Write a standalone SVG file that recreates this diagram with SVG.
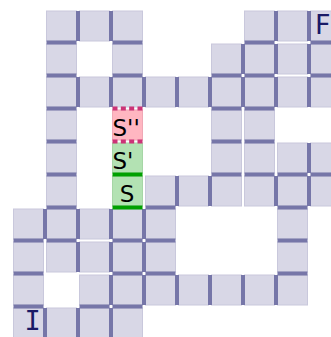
<svg xmlns="http://www.w3.org/2000/svg" width="331" height="337" viewBox="0 0 331 337">
<style>
.cell{fill:#d8d7e6;stroke:#c9c8dc;stroke-width:1}
.pink{fill:#ffb6c1;stroke:#f0a8b6;stroke-width:1}
.green{fill:#b3e2b3;stroke:#a6d6a6;stroke-width:1}
.wall{fill:#7676a8}
.gwall{fill:#00a000}
.dash{stroke:#cc3377;stroke-width:4;stroke-dasharray:5 3.333;fill:none}
.lbl{font-family:"DejaVu Sans",sans-serif;font-size:23px;fill:#000}
.term{font-size:27px;fill:#1a1a66}
</style>
<rect width="331" height="337" fill="#fff"/>
<g id="cells">
<g id="r0"><rect class="cell" x="46.5" y="11" width="30" height="30"/><rect class="cell" x="79.5" y="11" width="30" height="30"/><rect class="cell" x="112.5" y="11" width="30" height="30"/><rect class="cell" x="244.5" y="11" width="30" height="30"/><rect class="cell" x="277.5" y="11" width="30" height="30"/></g>
<g id="r1"><rect class="cell" x="46.5" y="44" width="30" height="30"/><rect class="cell" x="112.5" y="44" width="30" height="30"/><rect class="cell" x="211.5" y="44" width="30" height="30"/><rect class="cell" x="244.5" y="44" width="30" height="30"/><rect class="cell" x="277.5" y="44" width="30" height="30"/><rect class="cell" x="310.5" y="44" width="30" height="30"/></g>
<g id="r2"><rect class="cell" x="46.5" y="77" width="30" height="30"/><rect class="cell" x="79.5" y="77" width="30" height="30"/><rect class="cell" x="112.5" y="77" width="30" height="30"/><rect class="cell" x="145.5" y="77" width="30" height="30"/><rect class="cell" x="178.5" y="77" width="30" height="30"/><rect class="cell" x="211.5" y="77" width="30" height="30"/><rect class="cell" x="244.5" y="77" width="30" height="30"/><rect class="cell" x="277.5" y="77" width="30" height="30"/><rect class="cell" x="310.5" y="77" width="30" height="30"/></g>
<g id="r3"><rect class="cell" x="46.5" y="110" width="30" height="30"/><rect class="cell" x="211.5" y="110" width="30" height="30"/><rect class="cell" x="244.5" y="110" width="30" height="30"/></g>
<g id="r4"><rect class="cell" x="46.5" y="143" width="30" height="30"/><rect class="cell" x="211.5" y="143" width="30" height="30"/><rect class="cell" x="244.5" y="143" width="30" height="30"/><rect class="cell" x="277.5" y="143" width="30" height="30"/><rect class="cell" x="310.5" y="143" width="30" height="30"/></g>
<g id="r5"><rect class="cell" x="46.5" y="176" width="30" height="30"/><rect class="cell" x="145.5" y="176" width="30" height="30"/><rect class="cell" x="178.5" y="176" width="30" height="30"/><rect class="cell" x="211.5" y="176" width="30" height="30"/><rect class="cell" x="244.5" y="176" width="30" height="30"/><rect class="cell" x="277.5" y="176" width="30" height="30"/><rect class="cell" x="310.5" y="176" width="30" height="30"/></g>
<g id="r6"><rect class="cell" x="13.5" y="209" width="30" height="30"/><rect class="cell" x="46.5" y="209" width="30" height="30"/><rect class="cell" x="79.5" y="209" width="30" height="30"/><rect class="cell" x="112.5" y="209" width="30" height="30"/><rect class="cell" x="145.5" y="209" width="30" height="30"/><rect class="cell" x="277.5" y="209" width="30" height="30"/></g>
<g id="r7"><rect class="cell" x="13.5" y="242" width="30" height="30"/><rect class="cell" x="46.5" y="242" width="30" height="30"/><rect class="cell" x="79.5" y="242" width="30" height="30"/><rect class="cell" x="112.5" y="242" width="30" height="30"/><rect class="cell" x="145.5" y="242" width="30" height="30"/><rect class="cell" x="277.5" y="242" width="30" height="30"/></g>
<g id="r8"><rect class="cell" x="13.5" y="275" width="30" height="30"/><rect class="cell" x="79.5" y="275" width="30" height="30"/><rect class="cell" x="112.5" y="275" width="30" height="30"/><rect class="cell" x="145.5" y="275" width="30" height="30"/><rect class="cell" x="178.5" y="275" width="30" height="30"/><rect class="cell" x="211.5" y="275" width="30" height="30"/><rect class="cell" x="244.5" y="275" width="30" height="30"/><rect class="cell" x="277.5" y="275" width="30" height="30"/></g>
<g id="r9"><rect class="cell" x="46.5" y="308" width="30" height="30"/><rect class="cell" x="79.5" y="308" width="30" height="30"/><rect class="cell" x="112.5" y="308" width="30" height="30"/></g>
</g>
<g id="node-I"><rect class="cell" x="13.5" y="308" width="30" height="30"/><text class="term" x="24.5" y="330" font-family="DejaVu Sans Mono, monospace">I</text></g>
<g id="node-F"><rect class="cell" x="310.5" y="11" width="30" height="30"/><text class="term" x="315" y="34" font-family="DejaVu Sans, sans-serif">F</text></g>
<g id="node-S2"><rect class="pink" x="112.5" y="110" width="30" height="30"/><text class="lbl" x="112.5" y="135.5">S''</text></g>
<g id="node-S1"><rect class="green" x="112.5" y="143" width="30" height="30"/><text class="lbl" x="112.5" y="168.5">S'</text></g>
<g id="node-S"><rect class="green" x="112.5" y="176" width="30" height="30"/><text class="lbl" x="127" y="201.5" text-anchor="middle">S</text></g>
<g id="connectors">
<g id="vwalls">
<rect class="wall" x="76" y="11" width="4" height="30"/><rect class="wall" x="109" y="11" width="4" height="30"/><rect class="wall" x="274" y="11" width="4" height="30"/><rect class="wall" x="307" y="11" width="4" height="30"/>
<rect class="wall" x="241" y="44" width="4" height="30"/><rect class="wall" x="274" y="44" width="4" height="30"/><rect class="wall" x="307" y="44" width="4" height="30"/>
<rect class="wall" x="76" y="77" width="4" height="30"/><rect class="wall" x="109" y="77" width="4" height="30"/><rect class="wall" x="142" y="77" width="4" height="30"/><rect class="wall" x="175" y="77" width="4" height="30"/><rect class="wall" x="208" y="77" width="4" height="30"/><rect class="wall" x="241" y="77" width="4" height="30"/><rect class="wall" x="274" y="77" width="4" height="30"/><rect class="wall" x="307" y="77" width="4" height="30"/>
<rect class="wall" x="307" y="143" width="4" height="30"/>
<rect class="wall" x="175" y="176" width="4" height="30"/><rect class="wall" x="208" y="176" width="4" height="30"/><rect class="wall" x="274" y="176" width="4" height="30"/><rect class="wall" x="307" y="176" width="4" height="30"/>
<rect class="wall" x="43" y="209" width="4" height="30"/><rect class="wall" x="76" y="209" width="4" height="30"/><rect class="wall" x="109" y="209" width="4" height="30"/><rect class="wall" x="142" y="209" width="4" height="30"/>
<rect class="wall" x="76" y="242" width="4" height="30"/><rect class="wall" x="109" y="242" width="4" height="30"/><rect class="wall" x="142" y="242" width="4" height="30"/>
<rect class="wall" x="109" y="275" width="4" height="30"/><rect class="wall" x="142" y="275" width="4" height="30"/><rect class="wall" x="175" y="275" width="4" height="30"/><rect class="wall" x="208" y="275" width="4" height="30"/><rect class="wall" x="241" y="275" width="4" height="30"/><rect class="wall" x="274" y="275" width="4" height="30"/>
<rect class="wall" x="43" y="308" width="4" height="30"/><rect class="wall" x="76" y="308" width="4" height="30"/><rect class="wall" x="109" y="308" width="4" height="30"/>
</g>
<g id="hwalls">
<rect class="wall" x="46.5" y="40.5" width="30" height="4"/><rect class="wall" x="112.5" y="40.5" width="30" height="4"/><rect class="wall" x="244.5" y="40.5" width="30" height="4"/><rect class="wall" x="310.5" y="40.5" width="30" height="4"/>
<rect class="wall" x="46.5" y="73.5" width="30" height="4"/><rect class="wall" x="112.5" y="73.5" width="30" height="4"/><rect class="wall" x="211.5" y="73.5" width="30" height="4"/><rect class="wall" x="244.5" y="73.5" width="30" height="4"/><rect class="wall" x="310.5" y="73.5" width="30" height="4"/>
<rect class="wall" x="46.5" y="106.5" width="30" height="4"/><rect class="wall" x="211.5" y="106.5" width="30" height="4"/><rect class="wall" x="244.5" y="106.5" width="30" height="4"/>
<rect class="wall" x="46.5" y="139.5" width="30" height="4"/><rect class="wall" x="211.5" y="139.5" width="30" height="4"/><rect class="wall" x="244.5" y="139.5" width="30" height="4"/>
<rect class="wall" x="46.5" y="172.5" width="30" height="4"/><rect class="wall" x="211.5" y="172.5" width="30" height="4"/><rect class="wall" x="244.5" y="172.5" width="30" height="4"/><rect class="wall" x="277.5" y="172.5" width="30" height="4"/><rect class="wall" x="310.5" y="172.5" width="30" height="4"/>
<rect class="wall" x="46.5" y="205.5" width="30" height="4"/><rect class="wall" x="145.5" y="205.5" width="30" height="4"/><rect class="wall" x="277.5" y="205.5" width="30" height="4"/>
<rect class="wall" x="13.5" y="238.5" width="30" height="4"/><rect class="wall" x="46.5" y="238.5" width="30" height="4"/><rect class="wall" x="112.5" y="238.5" width="30" height="4"/><rect class="wall" x="145.5" y="238.5" width="30" height="4"/><rect class="wall" x="277.5" y="238.5" width="30" height="4"/>
<rect class="wall" x="13.5" y="271.5" width="30" height="4"/><rect class="wall" x="112.5" y="271.5" width="30" height="4"/><rect class="wall" x="145.5" y="271.5" width="30" height="4"/><rect class="wall" x="277.5" y="271.5" width="30" height="4"/>
<rect class="wall" x="13.5" y="304.5" width="30" height="4"/><rect class="wall" x="79.5" y="304.5" width="30" height="4"/><rect class="wall" x="112.5" y="304.5" width="30" height="4"/>
</g>
<g id="state-walls">
<line class="dash" x1="112.5" y1="108.5" x2="142.5" y2="108.5"/>
<line class="dash" x1="112.5" y1="141.5" x2="142.5" y2="141.5"/>
<rect class="gwall" x="112.5" y="172.5" width="30" height="4"/>
<rect class="gwall" x="112.5" y="205.5" width="30" height="4"/>
</g>
</g>
</svg>
